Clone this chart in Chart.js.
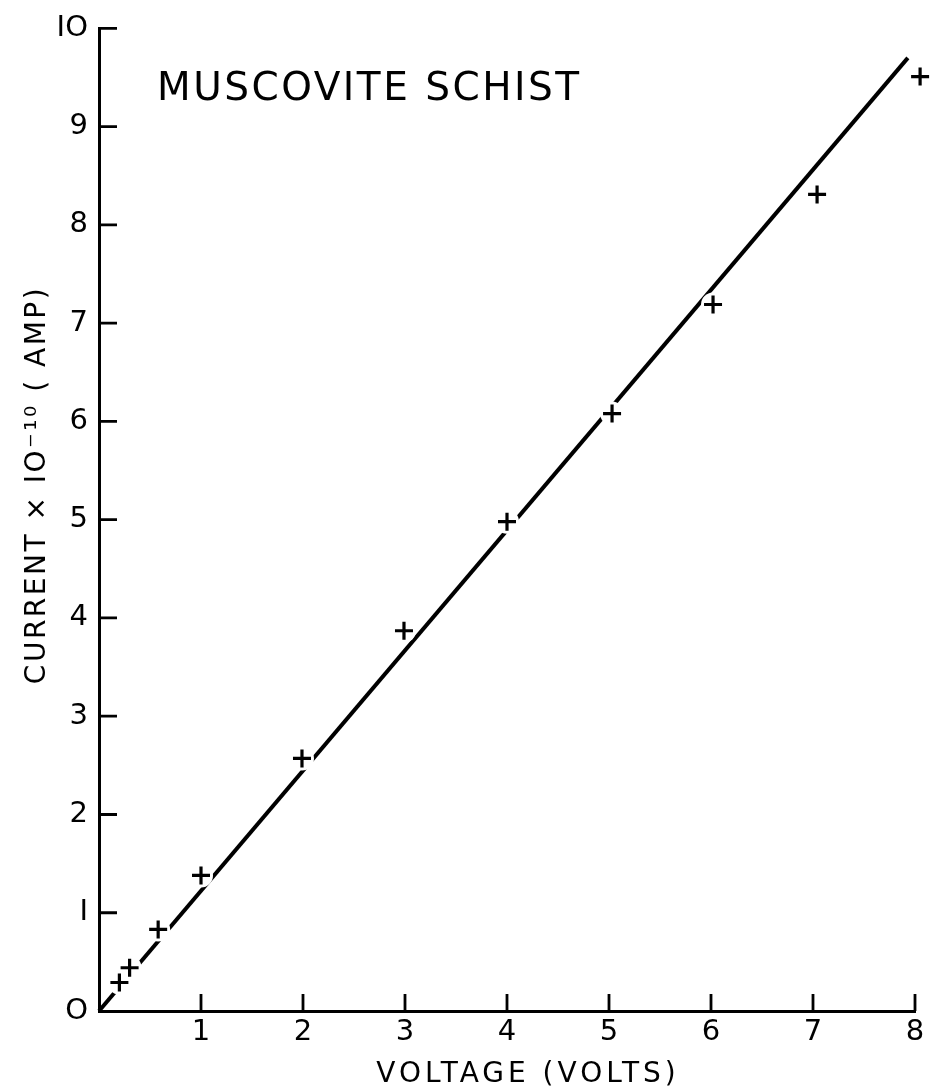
<!DOCTYPE html>
<html>
<head>
<meta charset="utf-8">
<script src="https://cdn.jsdelivr.net/npm/chart.js@4/dist/chart.umd.min.js"></script>
<style>
html,body{margin:0;padding:0;background:#fff;}
#wrap{width:932px;height:1087px;position:relative;}
</style>
</head>
<body>
<div id="wrap"><canvas id="c" width="932" height="1087"></canvas></div>
<script>
// ---- data ----
const voltage = [0.2, 0.3, 0.58, 1.0, 1.99, 2.99, 4.0, 5.03, 6.02, 7.04, 8.05];
const current = [0.29, 0.44, 0.83, 1.38, 2.57, 3.87, 4.98, 6.08, 7.19, 8.31, 9.51];
const fitVoltage = [0, 7.93];
const fitCurrent = [0, 9.7];
const xTickLabels = ['', '1', '2', '3', '4', '5', '6', '7', '8'];
const yTickLabels = ['O', 'I', '2', '3', '4', '5', '6', '7', '8', '9', 'IO'];
const chartTitle = 'MUSCOVITE SCHIST';
const xTitle = 'VOLTAGE (VOLTS)';
const yTitle = 'CURRENT × IO⁻¹⁰ ( AMP)';

const pts = voltage.map((v, i) => ({x: v, y: current[i]}));
const fit = fitVoltage.map((v, i) => ({x: v, y: fitCurrent[i]}));
const FONT = '"DejaVu Sans", sans-serif';

const inwardTicks = {
  id: 'inwardTicks',
  afterDatasetsDraw(chart) {
    const ctx = chart.ctx, a = chart.chartArea;
    const xs = chart.scales.x, ys = chart.scales.y;
    ctx.save();
    ctx.strokeStyle = '#000';
    ctx.lineWidth = 2.8;
    ctx.beginPath();
    for (let v = 1; v <= 10; v++) {
      const py = ys.getPixelForValue(v);
      ctx.moveTo(a.left, py); ctx.lineTo(a.left + 18, py);
    }
    for (let v = 1; v <= 8; v++) {
      const px = xs.getPixelForValue(v);
      ctx.moveTo(px, a.bottom); ctx.lineTo(px, a.bottom - 17);
    }
    ctx.stroke();
    ctx.restore();
  }
};

const texts = {
  id: 'texts',
  afterDraw(chart) {
    const ctx = chart.ctx, a = chart.chartArea;
    ctx.save();
    ctx.fillStyle = '#000';
    ctx.textBaseline = 'alphabetic';
    // plot title
    ctx.font = '39px ' + FONT;
    ctx.letterSpacing = '2.5px';
    ctx.textAlign = 'left';
    ctx.fillText(chartTitle, a.left + 58, 100);
    // x title
    ctx.font = '28px ' + FONT;
    ctx.letterSpacing = '4px';
    ctx.textAlign = 'center';
    ctx.fillText(xTitle, 528, 1082);
    // y title
    ctx.translate(45, 485);
    ctx.rotate(-Math.PI / 2);
    ctx.font = '28px ' + FONT;
    ctx.letterSpacing = '2.5px';
    ctx.fillText(yTitle, 0, 0);
    ctx.restore();
  }
};

new Chart(document.getElementById('c'), {
  type: 'scatter',
  data: {
    datasets: [
      {
        label: 'data',
        data: pts,
        order: 0,
        pointStyle: 'cross',
        pointRadius: 9,
        pointBorderWidth: 3.2,
        borderColor: '#000',
        backgroundColor: '#000',
        clip: false
      },
      {
        label: 'mask',
        data: pts,
        order: 1,
        pointStyle: 'circle',
        pointRadius: 12,
        pointBorderWidth: 0,
        borderColor: 'rgba(0,0,0,0)',
        backgroundColor: '#fff',
        clip: false
      },
      {
        label: 'fit',
        data: fit,
        order: 2,
        showLine: true,
        borderColor: '#000',
        borderWidth: 4,
        pointRadius: 0,
        clip: false
      }
    ]
  },
  options: {
    responsive: false,
    animation: false,
    events: [],
    layout: {padding: {top: 19, right: 17, left: 0, bottom: 0}},
    plugins: {legend: {display: false}, tooltip: {enabled: false}, title: {display: false}},
    scales: {
      x: {
        type: 'linear', min: 0, max: 8,
        afterFit(s) { s.height = 76; },
        grid: {display: false, drawTicks: false},
        border: {display: true, color: '#000', width: 3},
        ticks: {
          stepSize: 1, padding: 4, color: '#000',
          font: {family: FONT, size: 29},
          maxRotation: 0, autoSkip: false,
          callback: (v) => xTickLabels[v] ?? ''
        }
      },
      y: {
        type: 'linear', min: 0, max: 10,
        afterFit(s) { s.width = 99; },
        grid: {display: false, drawTicks: false},
        border: {display: true, color: '#000', width: 3},
        ticks: {
          stepSize: 1, padding: 11, color: '#000',
          font: {family: FONT, size: 29},
          autoSkip: false,
          callback: (v) => yTickLabels[v] ?? ''
        }
      }
    }
  },
  plugins: [inwardTicks, texts]
});
</script>
</body>
</html>
